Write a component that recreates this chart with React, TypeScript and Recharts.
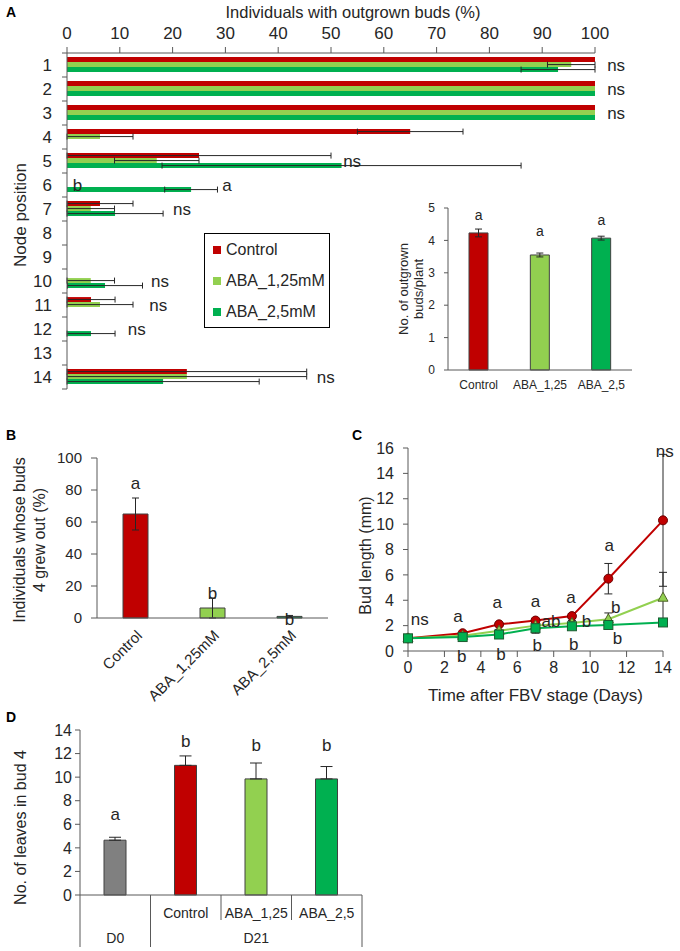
import React from 'react';
import { BarChart, Bar, XAxis, YAxis, ErrorBar, Cell, Legend, ReferenceDot, LineChart, Line } from 'recharts';

const FONT = '"Liberation Sans", Arial, Helvetica, sans-serif';
const TXT = '#262626';
const AX = '#595959';
const RED = '#c00000';
const LGREEN = '#92d050';
const GREEN = '#00b050';
const GRAY = '#808080';
const ERR = '#262626';
const OUTLINE = '#404040';

// ---------------- Panel A data ----------------
const seriesNamesA = ['Control', 'ABA_1,25mM', 'ABA_2,5mM'];
const nodePositions = ['1', '2', '3', '4', '5', '6', '7', '8', '9', '10', '11', '12', '13', '14'];
const controlOutgrown = [100, 100, 100, 65, 25, 0, 6.25, 0, 0, 0, 4.55, 0, 0, 22.7];
const controlOutgrownErr = [0, 0, 0, 10, 25, 0, 6.25, 0, 0, 0, 4.55, 0, 0, 22.7];
const aba125Outgrown = [95.5, 100, 100, 6.25, 17, 0, 4.5, 0, 0, 4.5, 6.25, 0, 0, 22.7];
const aba125OutgrownErr = [4.5, 0, 0, 6.25, 8, 0, 4.5, 0, 0, 4.5, 6.25, 0, 0, 22.7];
const aba25Outgrown = [93, 100, 100, 0, 52, 23.5, 9.1, 0, 0, 7.2, 0, 4.55, 0, 18.2];
const aba25OutgrownErr = [7, 0, 0, 0, 34, 5, 9.1, 0, 0, 7.1, 0, 4.55, 0, 18.2];
const outgrownTicks = [0, 10, 20, 30, 40, 50, 60, 70, 80, 90, 100];
const sigNodeA = ['1', '2', '3', '5', '6', '6', '7', '10', '11', '12', '14'];
const sigValueA = [104, 104, 104, 54, 2, 30.3, 21.8, 17.6, 17.3, 13.2, 49];
const sigTextA = ['ns', 'ns', 'ns', 'ns', 'b', 'a', 'ns', 'ns', 'ns', 'ns', 'ns'];

// ---------------- Inset data ----------------
const insetCats = ['Control', 'ABA_1,25', 'ABA_2,5'];
const insetBuds = [4.23, 3.55, 4.07];
const insetBudsErr = [0.12, 0.06, 0.06];
const insetLetters = ['a', 'a', 'a'];
const insetLetterPos = [4.78, 4.29, 4.63];
const insetTicks = [0, 1, 2, 3, 4, 5];

// ---------------- Panel B data ----------------
const bCats = ['Control', 'ABA_1,25mM', 'ABA_2,5mM'];
const bud4Pct = [65, 6.25, 1.0];
const bud4PctErr = [10, 6.25, 0.6];
const bLetters = ['a', 'b', 'b'];
const bLetterPos = [84, 15.6, -1.2];
const bTicks = [0, 10, 20, 30, 40, 50, 60, 70, 80, 90, 100];

// ---------------- Panel C data ----------------
const days = [0, 3, 5, 7, 9, 11, 14];
const controlLen = [1.0, 1.4, 2.1, 2.4, 2.75, 5.7, 10.3];
const controlLenErr = [0.05, 0.1, 0.15, 0.15, 0.2, 1.2, 5.2];
const aba125Len = [1.0, 1.2, 1.6, 2.0, 2.2, 2.5, 4.2];
const aba125LenErr = [0.05, 0.1, 0.1, 0.15, 0.2, 0.5, 2.0];
const aba25Len = [1.0, 1.1, 1.3, 1.8, 1.95, 2.05, 2.25];
const aba25LenErr = [0.05, 0.05, 0.1, 0.4, 0.15, 0.15, 0.2];
const dayTicks = [0, 2, 4, 6, 8, 10, 12, 14];
const lenTicks = [0, 2, 4, 6, 8, 10, 12, 14, 16];
const cLetterDay = [0.65, 2.75, 4.9, 7.0, 8.95, 11.05, 7.85, 9.8, 11.4, 2.95, 5.1, 7.1, 9.1, 11.5, 14.1];
const cLetterVal = [2.45, 2.7, 3.8, 3.9, 4.25, 8.35, 2.3, 2.35, 3.4, -0.4, -0.25, 0.45, 0.55, 0.95, 15.7];
const cLetterText = ['ns', 'a', 'a', 'a', 'a', 'a', 'ab', 'b', 'b', 'b', 'b', 'b', 'b', 'b', 'ns'];

// ---------------- Panel D data ----------------
const leafIds = ['D0', 'Control', 'ABA_1,25', 'ABA_2,5'];
const leafSubLabels = ['', 'Control', 'ABA_1,25', 'ABA_2,5'];
const leafGroups = ['D0', 'D21', 'D21', 'D21'];
const leafCount = [4.65, 11.0, 9.85, 9.85];
const leafCountErr = [0.25, 0.8, 1.35, 1.05];
const leafLetters = ['a', 'b', 'b', 'b'];
const leafLetterPos = [6.8, 13.0, 12.7, 12.7];
const leafTicks = [0, 2, 4, 6, 8, 10, 12, 14];

const TREAT_COLORS = [RED, LGREEN, GREEN];
const LEAF_COLORS = [GRAY, RED, LGREEN, GREEN];

// ---------------- derived tables ----------------
const dataA = nodePositions.map((n, i) => ({
  node: n,
  control: controlOutgrown[i],
  controlErr: controlOutgrownErr[i],
  aba125: aba125Outgrown[i],
  aba125Err: aba125OutgrownErr[i],
  aba25: aba25Outgrown[i],
  aba25Err: aba25OutgrownErr[i],
}));
const dataInset = insetCats.map((c, i) => ({ cat: c, v: insetBuds[i], err: insetBudsErr[i] }));
const dataB = bCats.map((c, i) => ({ cat: c, v: bud4Pct[i], err: bud4PctErr[i] }));
const dataC = days.map((d, i) => ({
  day: d,
  control: controlLen[i],
  controlErr: controlLenErr[i],
  aba125: aba125Len[i],
  aba125Err: aba125LenErr[i],
  aba25: aba25Len[i],
  aba25Err: aba25LenErr[i],
}));
const dataD = leafIds.map((c, i) => ({ id: c, v: leafCount[i], err: [0, leafCountErr[i]] }));

// ---------------- layout constants ----------------
const A_W = 680, A_H = 395, A_MT = 0, A_MB = 6, A_XH = 53;
const bandA = (A_H - A_MB - A_MT - A_XH) / nodePositions.length;
const D_W = 380, D_ML = 80, D_MR = 18;
const bandD = (D_W - D_ML - D_MR) / leafIds.length;

const txt = (size: number) => ({ fontSize: size, fill: TXT, fontFamily: FONT });

const letterShape = (t: string, size: number) => (p: any) => (
  <text x={p.cx} y={p.cy} textAnchor="middle" dominantBaseline="central" fontSize={size} fill={TXT} fontFamily={FONT}>
    {t}
  </text>
);

const rotLabel = (lines: string[], xs: number[], size: number, dy: number) => (props: any) => {
  const vb = props.viewBox || { x: 0, y: 0, width: 0, height: 0 };
  const cy = vb.y + vb.height / 2 + dy;
  return (
    <g>
      {lines.map((l, i) => (
        <text
          key={i}
          x={xs[i]}
          y={cy}
          transform={`rotate(-90 ${xs[i]} ${cy})`}
          textAnchor="middle"
          dominantBaseline="central"
          fontSize={size}
          fill={TXT}
          fontFamily={FONT}
        >
          {l}
        </text>
      ))}
    </g>
  );
};

const NodeTick = (props: any) => {
  const { x, y, payload, index } = props;
  const axisX = x + 15;
  const h = bandA / 2;
  return (
    <g>
      <text x={x} y={y} textAnchor="end" dominantBaseline="central" fontSize={17} fill={TXT} fontFamily={FONT}>
        {payload.value}
      </text>
      <line x1={axisX - 5} x2={axisX} y1={y - h} y2={y - h} stroke={AX} />
      {index === nodePositions.length - 1 && <line x1={axisX - 5} x2={axisX} y1={y + h} y2={y + h} stroke={AX} />}
    </g>
  );
};

const LeafTick = (props: any) => {
  const { x, y, index } = props;
  const h = bandD / 2;
  const sub = leafSubLabels[index];
  const grp = leafGroups[index];
  const first = index === 0 || leafGroups[index - 1] !== grp;
  const last = index === leafGroups.length - 1 || leafGroups[index + 1] !== grp;
  const count = leafGroups.filter((g) => g === grp).length;
  return (
    <g>
      {sub && (
        <text x={x} y={y + 18} textAnchor="middle" dominantBaseline="central" fontSize={14} fill={TXT} fontFamily={FONT}>
          {sub}
        </text>
      )}
      {first && (
        <text x={x + (count - 1) * h} y={y + 43} textAnchor="middle" dominantBaseline="central" fontSize={14} fill={TXT} fontFamily={FONT}>
          {grp}
        </text>
      )}
      {index === 0 && <line x1={x - h} x2={x - h} y1={y} y2={y + 52} stroke={AX} />}
      <line x1={x + h} x2={x + h} y1={y} y2={last ? y + 52 : y + 25} stroke={AX} />
    </g>
  );
};

const renderLegendA = (props: any) => {
  const payload = [...(props.payload || [])].sort(
    (a: any, b: any) => seriesNamesA.indexOf(a.value) - seriesNamesA.indexOf(b.value)
  );
  return (
    <div
      style={{
        border: '1px solid #000',
        background: '#fff',
        width: 126,
        height: 95,
        boxSizing: 'border-box',
        paddingLeft: 8,
        fontFamily: FONT,
        fontSize: 16,
        color: TXT,
      }}
    >
      {payload.map((e: any) => (
        <div key={e.value} style={{ display: 'flex', alignItems: 'center', height: 31, whiteSpace: 'nowrap' }}>
          <span style={{ display: 'inline-block', width: 8, height: 8, background: e.color, marginRight: 5 }} />
          {e.value}
        </div>
      ))}
    </div>
  );
};

const triangleDot = (p: any) => {
  const { cx, cy, index } = p;
  if (cx == null || cy == null) return <g key={`tri-${index}`} />;
  return (
    <polygon
      key={`tri-${index}`}
      points={`${cx},${cy - 5.5} ${cx - 5},${cy + 3.5} ${cx + 5},${cy + 3.5}`}
      fill={LGREEN}
      stroke="#4f6228"
      strokeWidth={1}
    />
  );
};
const squareDot = (p: any) => {
  const { cx, cy, index } = p;
  if (cx == null || cy == null) return <g key={`sq-${index}`} />;
  return <rect key={`sq-${index}`} x={cx - 4.5} y={cy - 4.5} width={9} height={9} fill={GREEN} stroke="#1d5b30" strokeWidth={1} />;
};

const abs = (left: number, top: number): React.CSSProperties => ({ position: 'absolute', left, top });

export default function App() {
  return (
    <div style={{ position: 'absolute', left: 0, top: 0, width: 680, height: 951, background: '#fff', fontFamily: FONT, overflow: 'hidden' }}>
      {/* Panel A */}
      <div style={abs(0, 0)}>
        <BarChart
          width={A_W}
          height={A_H}
          data={dataA}
          layout="vertical"
          margin={{ top: A_MT, right: 85, bottom: A_MB, left: 0 }}
          barCategoryGap="17%"
          barGap={0}
        >
          <XAxis
            type="number"
            orientation="top"
            domain={[0, 100]}
            ticks={outgrownTicks}
            height={A_XH}
            tick={txt(17)}
            tickSize={6}
            tickMargin={8}
            axisLine={{ stroke: AX }}
            tickLine={{ stroke: AX }}
          />
          <YAxis
            type="category"
            dataKey="node"
            width={67}
            interval={0}
            axisLine={{ stroke: AX }}
            tickLine={false}
            tickSize={6}
            tickMargin={9}
            tick={NodeTick}
            label={rotLabel(['Node position'], [20], 17, -6)}
          />
          <Bar dataKey="control" name={seriesNamesA[0]} fill={RED} isAnimationActive={false}>
            <ErrorBar dataKey="controlErr" direction="x" width={3} stroke={ERR} strokeWidth={1} />
          </Bar>
          <Bar dataKey="aba125" name={seriesNamesA[1]} fill={LGREEN} isAnimationActive={false}>
            <ErrorBar dataKey="aba125Err" direction="x" width={3} stroke={ERR} strokeWidth={1} />
          </Bar>
          <Bar dataKey="aba25" name={seriesNamesA[2]} fill={GREEN} isAnimationActive={false}>
            <ErrorBar dataKey="aba25Err" direction="x" width={3} stroke={ERR} strokeWidth={1} />
          </Bar>
          <Legend
            layout="vertical"
            align="center"
            verticalAlign="middle"
            wrapperStyle={{ left: 204, top: 233, width: 126, height: 95 }}
            content={renderLegendA}
          />
          {sigTextA.map((t, i) => (
            <ReferenceDot key={`sa-${i}`} x={sigValueA[i]} y={sigNodeA[i]} r={0} ifOverflow="visible" shape={letterShape(t, 17)} />
          ))}
        </BarChart>
      </div>

      {/* Inset */}
      <div style={abs(380, 190)}>
        <BarChart width={260} height={210} data={dataInset} margin={{ top: 18, right: 8, bottom: 0, left: 0 }} barSize={19}>
          <XAxis
            dataKey="cat"
            interval={0}
            height={30}
            tick={txt(12)}
            tickLine={false}
            tickSize={6}
            tickMargin={4}
            axisLine={{ stroke: AX }}
          />
          <YAxis
            domain={[0, 5]}
            ticks={insetTicks}
            width={68}
            tick={txt(12)}
            tickSize={4}
            tickMargin={9}
            axisLine={{ stroke: AX }}
            tickLine={{ stroke: AX }}
            label={rotLabel(['No. of outgrown', 'buds/plant'], [23, 38], 13, 0)}
          />
          <Bar dataKey="v" stroke={OUTLINE} strokeWidth={1} isAnimationActive={false}>
            {dataInset.map((d, i) => (
              <Cell key={d.cat} fill={TREAT_COLORS[i]} />
            ))}
            <ErrorBar dataKey="err" direction="y" width={3.5} stroke={ERR} strokeWidth={1} />
          </Bar>
          {insetLetters.map((t, i) => (
            <ReferenceDot key={`il-${i}`} x={insetCats[i]} y={insetLetterPos[i]} r={0} ifOverflow="visible" shape={letterShape(t, 14)} />
          ))}
        </BarChart>
      </div>

      {/* Panel B */}
      <div style={abs(0, 430)}>
        <BarChart width={340} height={292} data={dataB} margin={{ top: 28, right: 12, bottom: 0, left: 0 }} barSize={25}>
          <XAxis
            dataKey="cat"
            interval={0}
            height={104}
            angle={-45}
            textAnchor="end"
            tick={txt(15)}
            tickLine={false}
            tickSize={6}
            tickMargin={5}
            axisLine={{ stroke: AX }}
          />
          <YAxis
            domain={[0, 100]}
            ticks={bTicks}
            width={97}
            tick={txt(15)}
            tickSize={6}
            tickMargin={9}
            axisLine={{ stroke: AX }}
            tickLine={{ stroke: AX }}
            label={rotLabel(['Individuals whose buds', '4 grew out (%)'], [19, 39], 16, 2)}
          />
          <Bar dataKey="v" stroke={OUTLINE} strokeWidth={1} isAnimationActive={false}>
            {dataB.map((d, i) => (
              <Cell key={d.cat} fill={TREAT_COLORS[i]} />
            ))}
            <ErrorBar dataKey="err" direction="y" width={3.5} stroke={ERR} strokeWidth={1} />
          </Bar>
          {bLetters.map((t, i) => (
            <ReferenceDot key={`bl-${i}`} x={bCats[i]} y={bLetterPos[i]} r={0} ifOverflow="visible" shape={letterShape(t, 17)} />
          ))}
        </BarChart>
      </div>

      {/* Panel C */}
      <div style={abs(340, 430)}>
        <LineChart width={340} height={280} data={dataC} margin={{ top: 18, right: 17, bottom: 7, left: 0 }}>
          <XAxis
            dataKey="day"
            type="number"
            domain={[0, 14]}
            ticks={dayTicks}
            height={52}
            tick={txt(16)}
            tickSize={6}
            tickMargin={5}
            axisLine={{ stroke: AX }}
            tickLine={{ stroke: AX }}
            label={(props: any) => {
              const vb = props.viewBox || { x: 0, y: 0, width: 0, height: 0 };
              return (
                <text x={vb.x + vb.width / 2} y={vb.y + 44} textAnchor="middle" dominantBaseline="central" fontSize={17} fill={TXT} fontFamily={FONT}>
                  Time after FBV stage (Days)
                </text>
              );
            }}
          />
          <YAxis
            domain={[0, 16]}
            ticks={lenTicks}
            width={68}
            tick={txt(16)}
            tickSize={5}
            tickMargin={9}
            axisLine={{ stroke: AX }}
            tickLine={{ stroke: AX }}
            label={rotLabel(['Bud length (mm)'], [25], 16, 6)}
          />
          <Line
            dataKey="control"
            stroke={RED}
            strokeWidth={2}
            dot={{ r: 4.5, fill: RED, stroke: '#6b0000', strokeWidth: 1 }}
            isAnimationActive={false}
          >
            <ErrorBar dataKey="controlErr" direction="y" width={4} stroke={ERR} strokeWidth={1} />
          </Line>
          <Line dataKey="aba125" stroke={LGREEN} strokeWidth={2} dot={triangleDot} isAnimationActive={false}>
            <ErrorBar dataKey="aba125Err" direction="y" width={4} stroke={ERR} strokeWidth={1} />
          </Line>
          <Line dataKey="aba25" stroke={GREEN} strokeWidth={2} dot={squareDot} isAnimationActive={false}>
            <ErrorBar dataKey="aba25Err" direction="y" width={4} stroke={ERR} strokeWidth={1} />
          </Line>
          {cLetterText.map((t, i) => (
            <ReferenceDot key={`cl-${i}`} x={cLetterDay[i]} y={cLetterVal[i]} r={0} ifOverflow="visible" shape={letterShape(t, 17)} />
          ))}
        </LineChart>
      </div>

      {/* Panel D */}
      <div style={abs(0, 710)}>
        <BarChart width={D_W} height={241} data={dataD} margin={{ top: 20, right: D_MR, bottom: 0, left: 0 }} barSize={22}>
          <XAxis
            dataKey="id"
            interval={0}
            height={56}
            tick={LeafTick}
            tickLine={false}
            tickSize={0}
            tickMargin={0}
            axisLine={{ stroke: AX }}
          />
          <YAxis
            domain={[0, 14]}
            ticks={leafTicks}
            width={D_ML}
            tick={txt(16)}
            tickSize={5}
            tickMargin={3}
            axisLine={{ stroke: AX }}
            tickLine={{ stroke: AX }}
            label={rotLabel(['No. of leaves in bud 4'], [20], 16, 15)}
          />
          <Bar dataKey="v" stroke={OUTLINE} strokeWidth={1} isAnimationActive={false}>
            {dataD.map((d, i) => (
              <Cell key={d.id} fill={LEAF_COLORS[i]} />
            ))}
            <ErrorBar dataKey="err" direction="y" width={6} stroke={ERR} strokeWidth={1} />
          </Bar>
          {leafLetters.map((t, i) => (
            <ReferenceDot key={`dl-${i}`} x={leafIds[i]} y={leafLetterPos[i]} r={0} ifOverflow="visible" shape={letterShape(t, 17)} />
          ))}
        </BarChart>
      </div>

      {/* Panel letters and panel A title */}
      <svg width={680} height={951} style={{ position: 'absolute', left: 0, top: 0, pointerEvents: 'none' }}>
        <text x={11} y={12} textAnchor="middle" dominantBaseline="central" fontSize={14} fontWeight="bold" fill="#000" fontFamily={FONT}>A</text>
        <text x={11} y={435} textAnchor="middle" dominantBaseline="central" fontSize={14} fontWeight="bold" fill="#000" fontFamily={FONT}>B</text>
        <text x={357} y={435} textAnchor="middle" dominantBaseline="central" fontSize={14} fontWeight="bold" fill="#000" fontFamily={FONT}>C</text>
        <text x={11} y={717} textAnchor="middle" dominantBaseline="central" fontSize={14} fontWeight="bold" fill="#000" fontFamily={FONT}>D</text>
        <text x={353} y={12} textAnchor="middle" dominantBaseline="central" fontSize={16.5} fill={TXT} fontFamily={FONT}>
          Individuals with outgrown buds (%)
        </text>
      </svg>
    </div>
  );
}
